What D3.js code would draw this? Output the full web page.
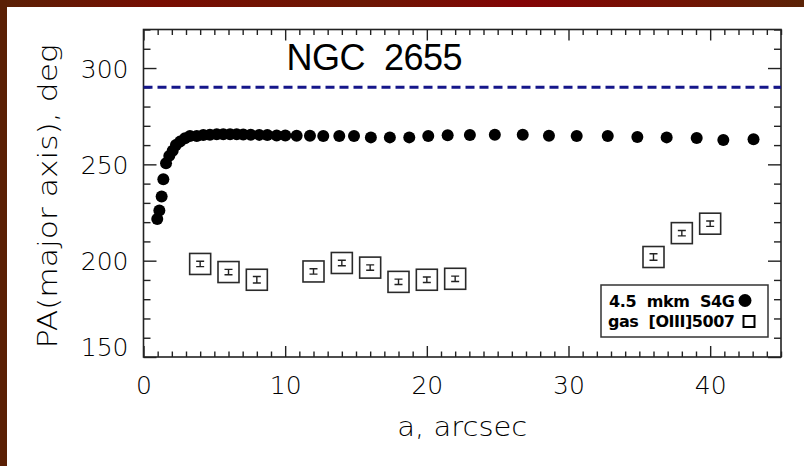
<!DOCTYPE html>
<html>
<head>
<meta charset="utf-8">
<script src="https://cdn.jsdelivr.net/npm/d3@7"></script>
<style>
  html, body { margin: 0; padding: 0; background: #fff; }
  svg { display: block; }
</style>
</head>
<body>
<svg id="chart" width="804" height="466"></svg>
<script>
// NGC 2655: position angle of the major axis versus semi-major axis
const radiusS4G = [0.97,1.12,1.28,1.40,1.59,1.82,2.06,2.29,2.58,2.93,3.28,3.76,4.22,4.69,5.17,5.63,6.11,6.58,7.04,7.57,8.17,8.74,9.40,10.01,10.81,11.75,12.69,13.82,14.86,16.05,17.39,18.76,20.10,21.47,23.04,24.80,26.77,28.62,30.58,32.77,34.86,36.93,39.05,40.93,43.06];
const paS4G = [221.6,226.0,233.3,242.3,250.6,254.4,257.1,260.1,261.8,263.5,264.7,264.7,265.2,265.4,265.6,265.6,265.6,265.6,265.5,265.4,265.3,265.2,265.0,265.0,264.9,264.8,264.7,264.7,264.7,264.0,264.0,264.0,264.7,265.1,265.2,265.4,265.4,264.9,264.7,264.7,264.2,264.0,263.7,262.6,263.0];

const radiusGas = [4,6,8,12,14,16,18,20,22,36,38,40];
const paGas = [198.3,194.1,190.1,194.4,198.8,196.4,189.0,190.1,190.6,201.9,214.3,219.2];
const errGas = [1.4,1.4,1.7,1.4,1.4,1.4,1.4,1.4,1.4,1.7,1.4,1.4];

const diskPA = 290;

const xTicks = [0,10,20,30,40];
const yTicks = [150,200,250,300];
const xLabel = "a, arcsec";
const yLabel = "PA(major axis), deg";
const title = "NGC  2655";
const legendLabels = ["4.5  mkm  S4G", "gas  [OIII]5007"];

const svg = d3.select("#chart");
const W = 804, H = 466;
const plot = {left: 143.5, right: 781, top: 29.5, bottom: 357};

// Frame strips along the left and top edges
const defs = svg.append("defs");
const grad = defs.append("linearGradient").attr("id", "topStrip").attr("x1", 0).attr("x2", 1).attr("y1", 0).attr("y2", 0);
[[0, "#5a2106"], [0.2, "#780d02"], [0.45, "#6c1804"], [0.65, "#840305"], [0.85, "#721404"], [1, "#5b2307"]]
  .forEach(([o, c]) => grad.append("stop").attr("offset", o).attr("stop-color", c));
svg.append("rect").attr("x", 0).attr("y", 0).attr("width", W).attr("height", 7).attr("fill", "url(#topStrip)");
svg.append("rect").attr("x", 0).attr("y", 0).attr("width", 7).attr("height", H).attr("fill", "#5a1f04");

const x = d3.scaleLinear().domain([0, 45]).range([plot.left, plot.right]);
const y = d3.scaleLinear().domain([150, 320]).range([plot.bottom, plot.top]);

const axisColor = "#222";
const tickFont = "'DejaVu Sans', sans-serif";

function styleAxis(g) {
  g.select(".domain").remove();
  g.selectAll(".tick line").attr("stroke", axisColor).attr("stroke-width", 1.4);
}

const xMinor = d3.range(0, 46, 1).filter(v => v % 10 !== 0);
const yMinor = d3.range(150, 321, 10).filter(v => v % 50 !== 0);

// bottom axis
svg.append("g").attr("transform", `translate(0,${plot.bottom})`)
  .call(d3.axisBottom(x).tickValues(xMinor).tickSize(-5.5).tickFormat("")).call(styleAxis);
const gxb = svg.append("g").attr("transform", `translate(0,${plot.bottom})`)
  .call(d3.axisBottom(x).tickValues(xTicks).tickSize(-11).tickPadding(19).tickFormat(d3.format("d")));
styleAxis(gxb);
gxb.selectAll("text").attr("font-family", tickFont).attr("font-weight", 200).attr("font-size", 25).attr("fill", "#000");

// top axis
svg.append("g").attr("transform", `translate(0,${plot.top})`)
  .call(d3.axisTop(x).tickValues(xMinor).tickSize(-5.5).tickFormat("")).call(styleAxis);
svg.append("g").attr("transform", `translate(0,${plot.top})`)
  .call(d3.axisTop(x).tickValues(xTicks).tickSize(-11).tickFormat("")).call(styleAxis);

// left axis
svg.append("g").attr("transform", `translate(${plot.left},0)`)
  .call(d3.axisLeft(y).tickValues(yMinor).tickSize(-7).tickFormat("")).call(styleAxis);
const gyl = svg.append("g").attr("transform", `translate(${plot.left},0)`)
  .call(d3.axisLeft(y).tickValues(yTicks).tickSize(-13).tickPadding(15).tickFormat(d3.format("d")));
styleAxis(gyl);
gyl.selectAll("text").attr("font-family", tickFont).attr("font-weight", 200).attr("font-size", 25).attr("fill", "#000")
  .attr("dy", d => d === 150 ? "-0.05em" : "0.36em");

// right axis
svg.append("g").attr("transform", `translate(${plot.right},0)`)
  .call(d3.axisRight(y).tickValues(yMinor).tickSize(-7).tickFormat("")).call(styleAxis);
svg.append("g").attr("transform", `translate(${plot.right},0)`)
  .call(d3.axisRight(y).tickValues(yTicks).tickSize(-13).tickFormat("")).call(styleAxis);

// plot frame
svg.append("rect").attr("x", plot.left).attr("y", plot.top)
  .attr("width", plot.right - plot.left).attr("height", plot.bottom - plot.top)
  .attr("fill", "none").attr("stroke", axisColor).attr("stroke-width", 1.6);

// axis titles
svg.append("text").attr("x", (plot.left + plot.right) / 2).attr("y", 436)
  .attr("text-anchor", "middle").attr("font-family", tickFont).attr("font-weight", 200)
  .attr("font-size", 26).attr("fill", "#000")
  .attr("textLength", 130).attr("lengthAdjust", "spacingAndGlyphs").text(xLabel);
svg.append("text").attr("transform", `translate(57,${(plot.top + plot.bottom) / 2 + 3}) rotate(-90)`)
  .attr("text-anchor", "middle").attr("font-family", tickFont).attr("font-weight", 200)
  .attr("font-size", 27).attr("fill", "#000")
  .attr("textLength", 304).attr("lengthAdjust", "spacingAndGlyphs").text(yLabel);

// title
svg.append("text").attr("x", 286.5).attr("y", 69.5)
  .attr("font-family", "'Liberation Sans', Arial, sans-serif").attr("font-size", 36).attr("fill", "#000")
  .attr("xml:space", "preserve")
  .attr("textLength", 176).attr("lengthAdjust", "spacing").text(title);

// disk position angle
svg.append("line").attr("x1", plot.left).attr("x2", plot.right)
  .attr("y1", y(diskPA)).attr("y2", y(diskPA))
  .attr("stroke", "#15168a").attr("stroke-width", 3).attr("stroke-dasharray", "9,5");

// S4G isophote fits
svg.append("g").selectAll("circle").data(radiusS4G.map((r, i) => [r, paS4G[i]])).join("circle")
  .attr("cx", d => x(d[0])).attr("cy", d => y(d[1])).attr("r", 6).attr("fill", "#000");

// gas kinematics: boxes with error bars
const gasG = svg.append("g").selectAll("g").data(radiusGas.map((r, i) => [r, paGas[i], errGas[i]])).join("g")
  .attr("transform", d => `translate(${x(d[0])},${y(d[1])})`);
const box = 21;
gasG.append("rect").attr("x", -box / 2).attr("y", -box / 2).attr("width", box).attr("height", box)
  .attr("fill", "none").attr("stroke", "#2a2a2a").attr("stroke-width", 1.6);
gasG.append("path")
  .attr("d", d => {
    const h = y(d[1] - d[2]) - y(d[1]);
    return `M-4,${-h}H4M0,${-h}V${h}M-4,${h}H4`;
  })
  .attr("fill", "none").attr("stroke", "#222").attr("stroke-width", 1.4);

// legend
const lg = svg.append("g");
lg.append("rect").attr("x", 601).attr("y", 285).attr("width", 167).attr("height", 52)
  .attr("fill", "#fff").attr("stroke", "#333").attr("stroke-width", 1.5);
lg.append("text").attr("x", 609).attr("y", 306.5).attr("font-family", tickFont).attr("font-weight", "bold")
  .attr("font-size", 16).attr("fill", "#000").attr("xml:space", "preserve")
  .attr("textLength", 126).attr("lengthAdjust", "spacing").text(legendLabels[0]);
lg.append("circle").attr("cx", 745).attr("cy", 300.5).attr("r", 6.5).attr("fill", "#000");
lg.append("text").attr("x", 608).attr("y", 327).attr("font-family", tickFont).attr("font-weight", "bold")
  .attr("font-size", 16).attr("fill", "#000").attr("xml:space", "preserve")
  .attr("textLength", 127).attr("lengthAdjust", "spacing").text(legendLabels[1]);
lg.append("rect").attr("x", 743.5).attr("y", 316).attr("width", 11).attr("height", 11)
  .attr("fill", "none").attr("stroke", "#000").attr("stroke-width", 2);
</script>
</body>
</html>
